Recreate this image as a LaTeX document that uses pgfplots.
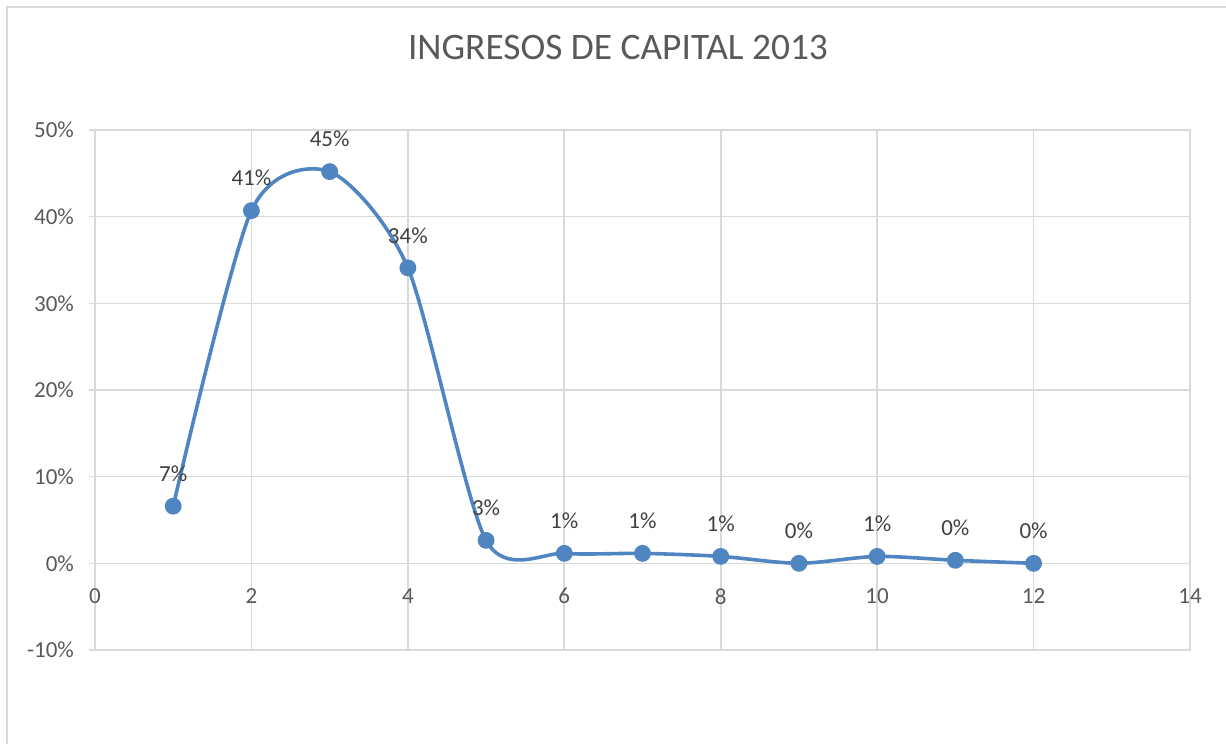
\documentclass[border=0pt]{standalone}
\usepackage{fontspec}
\setmainfont{Carlito}
\usepackage{pgfplots}
\pgfplotsset{compat=1.18}

\definecolor{serie}{RGB}{79,134,193}
\definecolor{rejilla}{RGB}{217,217,217}
\definecolor{texto}{RGB}{89,89,89}
\definecolor{etiqueta}{RGB}{64,64,64}

\begin{document}
\begin{tikzpicture}
\useasboundingbox (0,0) rectangle (613pt,372pt);
% chart frame
\draw[rejilla, line width=1pt] (3.5pt,0) -- (3.5pt,368.5pt) -- (613pt,368.5pt);

\node[text=texto, font=\fontsize{18.7}{22}\selectfont] at (309pt,348pt) {INGRESOS DE CAPITAL 2013};

\begin{axis}[
  at={(47.5pt,47pt)}, anchor=south west,
  scale only axis,
  width=547.5pt, height=260pt,
  xmin=0, xmax=14, ymin=-10, ymax=50,
  xtick={0,2,...,14},
  ytick={-10,0,...,50},
  ytick pos=left,
  axis line style={rejilla, line width=0.8pt},
  grid=major,
  major grid style={rejilla, line width=0.8pt},
  tick align=outside,
  xtick style={draw=none},
  ytick style={rejilla, line width=0.8pt},
  major tick length=3pt,
  /pgf/number format/assume math mode=true,
  ticklabel style={text=texto, font=\fontsize{11.5}{13}\selectfont},
  yticklabel={\pgfmathprintnumber{\tick}\%},
  % x labels sit under the 0 line, as in the spreadsheet
  xticklabel style={yshift=43.33pt-6pt},
  yticklabel style={xshift=-4pt},
  clip=false,
]
% small ticks hanging from the 0 line
\pgfplotsinvokeforeach{0,2,...,14}{
  \draw[rejilla, line width=0.8pt] (axis cs:#1,0) -- ++(0,-3pt);
}
\addplot[serie, line width=1.8pt, smooth, tension=0.45,
  mark=*, mark size=3.3pt, mark options={fill=serie, draw=serie},
  nodes near coords={\pgfmathprintnumber[fixed,precision=0]{\pgfplotspointmeta}\%},
  every node near coord/.style={anchor=south, yshift=8pt, text=etiqueta,
    font=\fontsize{11.5}{13}\selectfont, /pgf/number format/assume math mode=true},
] coordinates {
  (1,6.6)
  (2,40.7)
  (3,45.2)
  (4,34.1)
  (5,2.65)
  (6,1.15)
  (7,1.15)
  (8,0.8)
  (9,0.0)
  (10,0.8)
  (11,0.35)
  (12,0.0)
};
\end{axis}
\end{tikzpicture}
\end{document}
